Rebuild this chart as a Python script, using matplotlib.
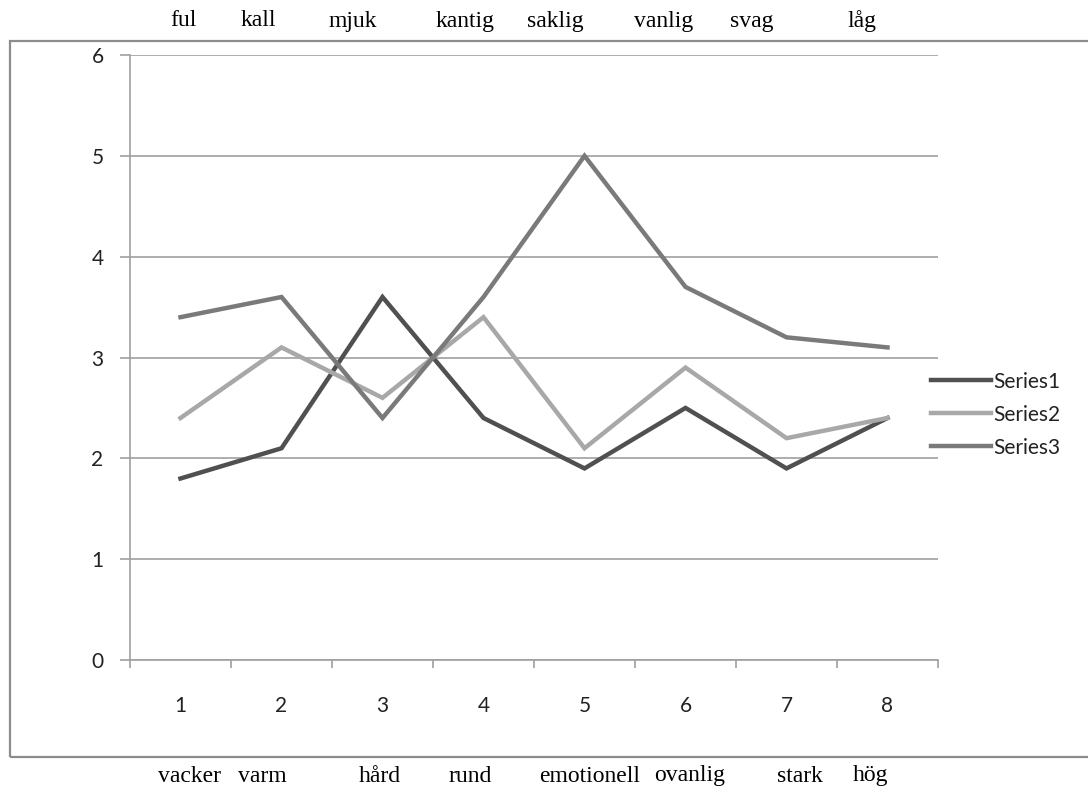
import matplotlib
matplotlib.use("Agg")
import matplotlib.pyplot as plt
from matplotlib.patches import Rectangle

# data
categories = ["1", "2", "3", "4", "5", "6", "7", "8"]
series1 = [1.8, 2.1, 3.6, 2.4, 1.9, 2.5, 1.9, 2.4]
series2 = [2.4, 3.1, 2.6, 3.4, 2.1, 2.9, 2.2, 2.4]
series3 = [3.4, 3.6, 2.4, 3.6, 5.0, 3.7, 3.2, 3.1]
top_words = ["ful", "kall", "mjuk", "kantig", "saklig", "vanlig", "svag", "låg"]
bottom_words = ["vacker", "varm", "hård", "rund", "emotionell", "ovanlig", "stark", "hög"]

W, H = 1088, 794
fig = plt.figure(figsize=(W / 100, H / 100), dpi=100)

# outer chart frame
fig.patches.append(Rectangle((10 / W, 1 - 757 / H), 1.2, (757 - 41) / H,
                             transform=fig.transFigure, fill=False,
                             edgecolor="#8c8c8c", linewidth=1.6))

ax = fig.add_axes([130 / W, 1 - 660 / H, (938 - 130) / W, (660 - 55) / H])
x = range(len(categories))
ax.plot(x, series1, color="#505050", lw=3.2, label="Series1", solid_joinstyle="miter")
ax.plot(x, series2, color="#a8a8a8", lw=3.2, label="Series2", solid_joinstyle="miter")
ax.plot(x, series3, color="#7a7a7a", lw=3.2, label="Series3", solid_joinstyle="miter")

ax.set_xlim(-0.5, len(categories) - 0.5)
ax.set_ylim(0, 6)
ax.set_yticks(range(7))
ax.set_xticks(list(x))
ax.set_xticklabels(categories)
ax.set_xticks([i - 0.5 for i in range(len(categories) + 1)], minor=True)
ax.grid(axis="y", color="#a0a0a0", lw=1.2)
ax.set_axisbelow(True)
for s in ["top", "right"]:
    ax.spines[s].set_visible(False)
for s in ["left", "bottom"]:
    ax.spines[s].set_color("#a0a0a0")
    ax.spines[s].set_linewidth(1.2)
ax.tick_params(axis="x", which="major", length=0, pad=26, labelsize=15, colors="#222222")
ax.tick_params(axis="x", which="minor", length=6, direction="out", color="#a0a0a0", width=1.2)
ax.tick_params(axis="y", length=7, direction="out", color="#a0a0a0", width=1.2, pad=12,
               labelsize=15, labelcolor="#222222")
for lab in ax.get_xticklabels() + ax.get_yticklabels():
    lab.set_fontfamily("Lato")

leg = fig.legend(loc="upper left", bbox_to_anchor=(912 / W, 1 - 353 / H), frameon=False,
                 handlelength=2.9, handletextpad=0.12, labelspacing=0.62,
                 prop={"family": "Lato", "size": 15})
for t in leg.get_texts():
    t.set_color("#222222")

top_x = [183, 258, 353, 465, 555, 664, 752, 862]
bottom_x = [190, 262, 380, 470, 590, 690, 800, 870]
for w, px in zip(top_words, top_x):
    fig.text(px / W, 1 - 21 / H, w, ha="center", va="center",
             family="Liberation Serif", fontsize=17)
for w, px in zip(bottom_words, bottom_x):
    fig.text(px / W, 1 - 776 / H, w, ha="center", va="center",
             family="Liberation Serif", fontsize=17)

fig.savefig("out.png", dpi=100)
